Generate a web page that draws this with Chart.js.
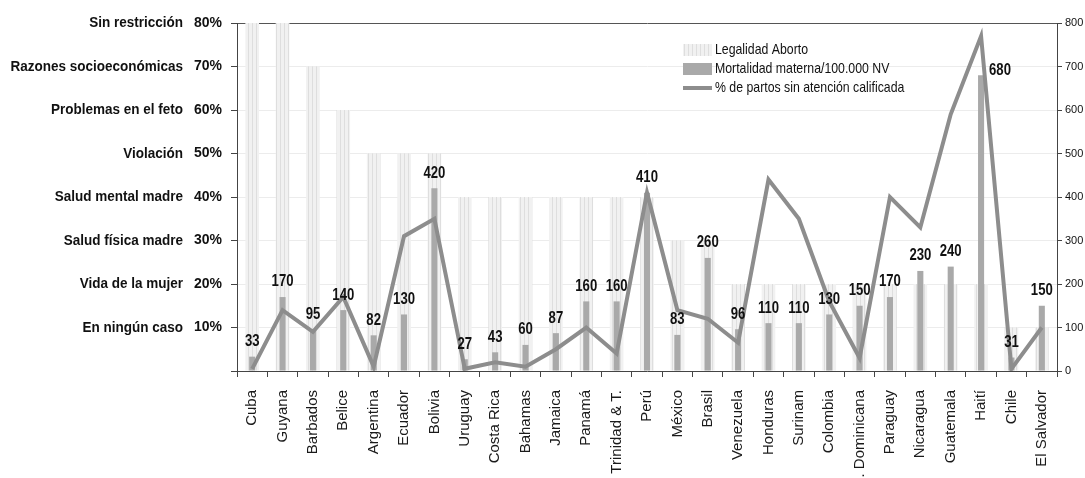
<!DOCTYPE html>
<html>
<head>
<meta charset="utf-8">
<script src="https://cdn.jsdelivr.net/npm/chart.js@4.4.1/dist/chart.umd.min.js"></script>
<style>
  html, body { margin: 0; padding: 0; background: #fff; }
  #wrap { width: 1085px; height: 478px; position: relative; }
</style>
</head>
<body>
<div id="wrap"><canvas id="chart"></canvas></div>
<script>
// data
const countries = ['Cuba', 'Guyana', 'Barbados', 'Belice', 'Argentina', 'Ecuador', 'Bolivia', 'Uruguay',
  'Costa Rica', 'Bahamas', 'Jamaica', 'Panamá', 'Trinidad & T.', 'Perú', 'México', 'Brasil', 'Venezuela',
  'Honduras', 'Surinam', 'Colombia', 'R. Dominicana', 'Paraguay', 'Nicaragua', 'Guatemala', 'Haití', 'Chile', 'El Salvador'];
const legalidad = [80, 80, 70, 60, 50, 50, 50, 40, 40, 40, 40, 40, 40, 40, 30, 30, 20, 20, 20, 20, 20, 20, 20, 20, 20, 10, 10];
const mortalidad = [33, 170, 95, 140, 82, 130, 420, 27, 43, 60, 87, 160, 160, 410, 83, 260, 96, 110, 110, 130, 150, 170, 230, 240, 680, 31, 150];
const partosSinAtencion = [0.5, 14, 9, 17, 1, 31, 35, 0.5, 2, 1, 5, 10, 4, 41, 14, 12, 6.5, 44, 35, 16, 3, 40, 33, 59, 77, 0.5, 10];
const legalidadNames = ['', 'En ningún caso', 'Vida de la mujer', 'Salud física madre', 'Salud mental madre',
  'Violación', 'Problemas en el feto', 'Razones socioeconómicas', 'Sin restricción'];
const legendLabels = ['Legalidad Aborto', 'Mortalidad materna/100.000 NV', '% de partos sin atención calificada'];

const sans = '"Liberation Sans", Arial, sans-serif';
const lightGray = '#f1f1f1';
const barGray = '#a9a9a9';
const lineGray = '#8d8d8d';

const canvas = document.getElementById('chart');
const ctx = canvas.getContext('2d');

function stripes() {
  const c = document.createElement('canvas');
  c.width = 4; c.height = 4;
  const g = c.getContext('2d');
  g.fillStyle = lightGray;
  g.fillRect(0, 0, 4, 4);
  g.fillStyle = '#dedede';
  g.fillRect(0, 0, 1, 4);
  return ctx.createPattern(c, 'repeat');
}
const lightPattern = stripes();

// the original uses a narrow face; squeeze Liberation Sans horizontally
function narrowText(c, text, x, y, font, align, sx) {
  c.save();
  c.font = font;
  c.textAlign = align;
  c.translate(x, y);
  c.scale(sx || 0.82, 1);
  c.fillText(text, 0, 0);
  c.restore();
}

// names in front of the left percentages
const leftNames = {
  id: 'leftNames',
  afterDraw(chart) {
    const c = chart.ctx;
    const y = chart.scales.y;
    c.save();
    c.fillStyle = '#111';
    c.textBaseline = 'middle';
    legalidadNames.forEach((name, i) => {
      if (!name) return;
      narrowText(c, name, 183, y.getPixelForValue(i * 10), 'bold 15px ' + sans, 'right', 0.9);
    });
    c.restore();
  }
};

// numbers above the mortality bars
const barLabels = {
  id: 'barLabels',
  afterDatasetsDraw(chart) {
    const c = chart.ctx;
    const meta = chart.getDatasetMeta(1);
    c.save();
    c.fillStyle = '#111';
    meta.data.forEach((bar, i) => {
      const v = mortalidad[i];
      if (v > 600) {
        c.textBaseline = 'middle';
        narrowText(c, String(v), bar.x + 8, bar.y - 5, 'bold 16px ' + sans, 'left');
      } else {
        c.textBaseline = 'bottom';
        narrowText(c, String(v), bar.x, bar.y - 7, 'bold 16px ' + sans, 'center');
      }
    });
    c.restore();
  }
};

// legend inside the plot, top right
const innerLegend = {
  id: 'innerLegend',
  afterDraw(chart) {
    const c = chart.ctx;
    const x = 683, y0 = 50, gap = 19;
    c.save();
    c.fillStyle = lightPattern;
    c.fillRect(x, y0 - 6, 29, 12);
    c.fillStyle = barGray;
    c.fillRect(x, y0 + gap - 6, 29, 12);
    c.strokeStyle = lineGray;
    c.lineWidth = 4;
    c.beginPath();
    c.moveTo(x, y0 + 2 * gap);
    c.lineTo(x + 29, y0 + 2 * gap);
    c.stroke();
    c.fillStyle = '#111';
    c.textBaseline = 'middle';
    legendLabels.forEach((t, i) => narrowText(c, t, x + 32, y0 + i * gap, '15px ' + sans, 'left'));
    c.restore();
  }
};

new Chart(ctx, {
  type: 'bar',
  data: {
    labels: countries,
    datasets: [
      {
        label: legendLabels[0],
        data: legalidad,
        yAxisID: 'y',
        backgroundColor: lightPattern,
        grouped: false,
        barPercentage: 0.45,
        categoryPercentage: 1,
        order: 3
      },
      {
        label: legendLabels[1],
        data: mortalidad,
        yAxisID: 'y1',
        backgroundColor: barGray,
        grouped: false,
        barPercentage: 0.2,
        categoryPercentage: 1,
        order: 2
      },
      {
        type: 'line',
        label: legendLabels[2],
        data: partosSinAtencion,
        yAxisID: 'y',
        borderColor: lineGray,
        borderWidth: 4,
        pointRadius: 0,
        tension: 0,
        order: 1
      }
    ]
  },
  options: {
    responsive: true,
    maintainAspectRatio: false,
    animation: false,
    layout: { padding: { top: 23, left: 0, right: 0, bottom: 0 } },
    plugins: {
      legend: { display: false },
      tooltip: { enabled: false }
    },
    scales: {
      x: {
        grid: { drawOnChartArea: false, color: '#444', tickLength: 6 },
        border: { color: '#444' },
        ticks: {
          minRotation: 90,
          maxRotation: 90,
          autoSkip: false,
          padding: 13,
          color: '#1a1a1a',
          font: { family: sans, size: 15 }
        },
        afterFit(scale) { scale.height = 107; }
      },
      y: {
        position: 'left',
        min: 0,
        max: 80,
        grid: {
          color: ctx2 => ctx2.tick.value === 80 ? '#555' : '#ececec',
          tickColor: '#444',
          tickLength: 6
        },
        border: { color: '#444' },
        ticks: {
          stepSize: 10,
          padding: 9,
          color: '#111',
          font: { family: sans, size: 14, weight: 'bold' },
          callback: v => v === 0 ? '' : v + '%'
        },
        afterFit(scale) { scale.width = 237; }
      },
      y1: {
        position: 'right',
        min: 0,
        max: 800,
        grid: { drawOnChartArea: false, color: '#444', tickLength: 5 },
        border: { color: '#444' },
        ticks: {
          stepSize: 100,
          padding: 3,
          color: '#111',
          font: { family: sans, size: 11 }
        },
        afterFit(scale) { scale.width = 28; }
      }
    }
  },
  plugins: [barLabels, leftNames, innerLegend]
});
</script>
</body>
</html>
